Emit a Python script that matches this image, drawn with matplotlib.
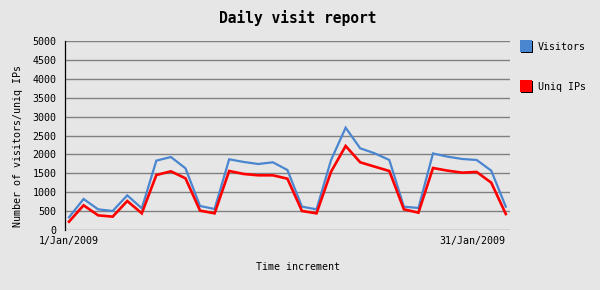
import matplotlib
matplotlib.use("Agg")
import matplotlib.pyplot as plt
from matplotlib.patches import Rectangle

days = list(range(1, 32))
visitors = [336, 820, 547, 503, 917, 573, 1835, 1931, 1632, 635, 556,
            1870, 1800, 1746, 1791, 1588, 617, 547, 1852, 2707, 2161,
            2028, 1852, 617, 582, 2025, 1940, 1879, 1852, 1570, 617]
uniq_ips = [220, 653, 388, 353, 767, 441, 1455, 1552, 1367, 512, 441,
            1561, 1482, 1447, 1447, 1358, 503, 441, 1543, 2223, 1791,
            1675, 1561, 547, 459, 1640, 1570, 1517, 1535, 1252, 423]
x_tick_labels = ["1/Jan/2009", "31/Jan/2009"]
y_ticks = list(range(0, 5001, 500))
series_names = ["Visitors", "Uniq IPs"]
colors = ["#4a86d0", "#ff0000"]

W, H = 600, 290
bg = "#e6e6e6"
font = "DejaVu Sans Mono"

fig = plt.figure(figsize=(W / 100, H / 100), dpi=100, facecolor=bg)
L, R, T, B = 65, 510, 41, 230
ax = fig.add_axes([L / W, 1 - B / H, (R - L) / W, (B - T) / H])
ax.set_facecolor(bg)

ax.set_ylim(0, 5000)
ax.set_xlim(1 - 4 / 14.56, 31 + 4.2 / 14.56)
ax.set_yticks(y_ticks)
ax.set_yticklabels([str(v) for v in y_ticks], fontfamily=font, fontsize=7.2)
ax.tick_params(axis="y", length=0, pad=6)
ax.set_xticks([days[0], days[-1]])
ax.set_xticklabels(x_tick_labels, fontfamily=font, fontsize=7.2)
ax.tick_params(axis="x", length=0, pad=4)
xt = ax.get_xticklabels()
xt[0].set_ha("center")
xt[1].set_ha("right")

for y in y_ticks:
    ax.axhline(y, color="#808080", lw=1.0, zorder=1)

for s in ["top", "right", "bottom"]:
    ax.spines[s].set_visible(False)
ax.spines["left"].set_color("black")
ax.spines["left"].set_linewidth(0.9)

ax.plot(days, visitors, color=colors[0], lw=1.6, zorder=3, solid_joinstyle="miter")
ax.plot(days, uniq_ips, color=colors[1], lw=1.9, zorder=4, solid_joinstyle="miter")

fig.text(298 / W, 1 - 18 / H, "Daily visit report", ha="center", va="center",
         fontfamily=font, fontsize=10.5, fontweight="bold")
fig.text(18 / W, 1 - 146 / H, "Number of visitors/uniq IPs", ha="center",
         va="center", rotation=90, fontfamily=font, fontsize=7.2)
fig.text(298 / W, 1 - 267 / H, "Time increment", ha="center", va="center",
         fontfamily=font, fontsize=7.2)

# legend
for i, (name, c) in enumerate(zip(series_names, colors)):
    y0 = 40 + i * 40
    fig.add_artist(Rectangle((521 / W, 1 - (y0 + 13) / H), 12 / W, 12 / H,
                             transform=fig.transFigure, facecolor="black",
                             edgecolor="none"))
    fig.add_artist(Rectangle((520 / W, 1 - (y0 + 12) / H), 12 / W, 12 / H,
                             transform=fig.transFigure, facecolor=c,
                             edgecolor="none"))
    fig.text(538 / W, 1 - (y0 + 6.5) / H, name, ha="left", va="center",
             fontfamily=font, fontsize=7.2)

fig.savefig("out.png", dpi=100, facecolor=bg)
